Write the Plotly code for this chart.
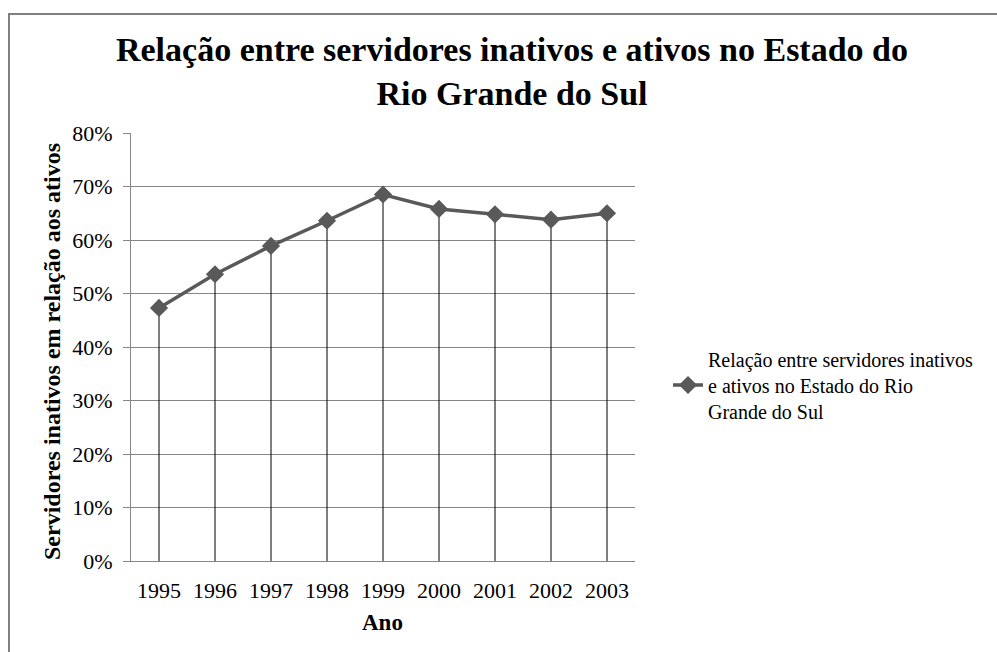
import plotly.graph_objects as go

years = ["1995", "1996", "1997", "1998", "1999", "2000", "2001", "2002", "2003"]
ratio = [0.473, 0.536, 0.589, 0.636, 0.685, 0.658, 0.648, 0.638, 0.650]
series_name = "Relação entre servidores inativos<br>e ativos no Estado do Rio<br>Grande do Sul"
title_text = "Relação entre servidores inativos e ativos no Estado do<br>Rio Grande do Sul"
y_title = "Servidores inativos em relação aos ativos"
x_title = "Ano"

FONT = "Liberation Serif"
W, H = 997, 652
L, R, T, B = 131, 362, 133, 91
PW, PH = W - L - R, H - T - B

def px_x(p):
    return (p - L) / PW

def px_y(p):
    return (H - B - p) / PH

fig = go.Figure()
fig.add_trace(go.Scatter(
    x=years, y=ratio, mode="lines+markers", name=series_name,
    line=dict(color="#595959", width=3.5),
    marker=dict(symbol="diamond", size=14, color="#595959"),
    error_y=dict(type="data", symmetric=False, array=[0] * len(ratio),
                 arrayminus=ratio, color="#000000", thickness=1, width=0),
))

fig.update_layout(
    width=W, height=H,
    margin=dict(l=L, r=R, t=T, b=B),
    paper_bgcolor="white", plot_bgcolor="white",
    font=dict(family=FONT, color="#000000"),
    title=dict(text="<b>" + title_text + "</b>", x=512 / W, xanchor="center",
               y=1 - 61 / H, yanchor="middle", yref="container",
               font=dict(size=34, family=FONT, color="#000000")),
    showlegend=True,
    legend=dict(x=px_x(668), xanchor="left", y=px_y(385), yanchor="middle",
                font=dict(size=20, family=FONT, color="#000000"),
                bgcolor="rgba(0,0,0,0)", borderwidth=0),
    xaxis=dict(type="category", range=[-0.5, len(years) - 0.5],
               showgrid=False, showline=True, linecolor="#868686", linewidth=1,
               ticks="", tickfont=dict(size=22, family=FONT, color="#000000"),
               ticklabelstandoff=10, zeroline=False, fixedrange=True),
    yaxis=dict(range=[0, 0.8], dtick=0.1, tickformat=".0%",
               showgrid=True, gridcolor="#868686", gridwidth=1,
               showline=True, linecolor="#868686", linewidth=1,
               ticks="outside", ticklen=7, tickcolor="#868686",
               tickfont=dict(size=22, family=FONT, color="#000000"),
               ticklabelstandoff=6, zeroline=False, fixedrange=True),
    annotations=[
        dict(text="<b>" + y_title + "</b>", xref="paper", yref="paper",
             x=px_x(52), y=px_y(352), xanchor="center", yanchor="middle",
             textangle=-90, showarrow=False,
             font=dict(size=24, family=FONT, color="#000000")),
        dict(text="<b>" + x_title + "</b>", xref="paper", yref="paper",
             x=px_x(382), y=px_y(622), xanchor="center", yanchor="middle",
             showarrow=False, font=dict(size=23, family=FONT, color="#000000")),
    ],
    shapes=[dict(type="rect", xref="paper", yref="paper",
                 x0=px_x(9), y0=px_y(700), x1=px_x(1050), y1=px_y(14),
                 line=dict(color="#808080", width=2), layer="below")],
)

fig.write_html("out.html", config={"displayModeBar": False},
               post_script="document.body.style.margin='0';")
